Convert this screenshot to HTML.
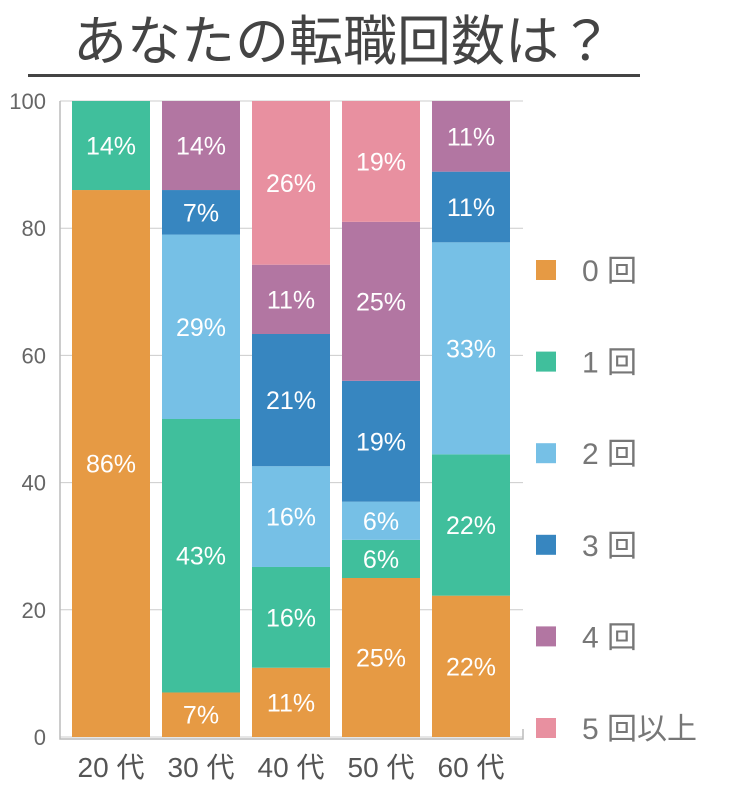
<!DOCTYPE html>
<html><head><meta charset="utf-8"><style>
html,body{margin:0;padding:0;background:#fff;width:733px;height:785px;overflow:hidden}
svg{display:block}
</style></head><body>
<svg id="chart" width="733" height="785" xmlns="http://www.w3.org/2000/svg" font-family="'Liberation Sans','Noto Sans CJK JP',sans-serif">
<text x="343" y="60" text-anchor="middle" font-size="54" fill="#444" font-family="'Noto Sans CJK JP',sans-serif">あなたの転職回数は？</text>
<rect x="28" y="74" width="612" height="3" fill="#444"/>
<g id="grid"></g><g id="bars"></g><g id="legend"></g>
</svg>
<script>
const categories=["20 代","30 代","40 代","50 代","60 代"];
const seriesNames=["0 回","1 回","2 回","3 回","4 回","5 回以上"];
const s0=[86,7,11,25,22];
const s1=[14,43,16,6,22];
const s2=[0,29,16,6,33];
const s3=[0,7,21,19,11];
const s4=[0,14,11,25,11];
const s5=[0,0,26,19,0];
const yTicks=[0,20,40,60,80,100];
const series=[s0,s1,s2,s3,s4,s5];
const colors=["#E69A44","#40BF9C","#76C0E6","#3786C0","#B276A2","#E890A0"];
const NS="http://www.w3.org/2000/svg";
const plotL=60,plotR=523,yTop=101,yBot=737;
const y=v=>yBot-(v/100)*(yBot-yTop);
const step=90,bw=78,x0=72;
const x=i=>x0+i*step;
function mk(t,a,p){const e=document.createElementNS(NS,t);for(const k in a)e.setAttribute(k,a[k]);p.appendChild(e);return e;}
const grid=document.getElementById('grid');
yTicks.forEach(t=>{
 const l=mk('line',{x1:plotL,x2:plotR,y1:y(t),y2:y(t),stroke:'#ccc','stroke-width':1},grid);
 
 
 const tx=mk('text',{x:46,y:y(t)+8,'text-anchor':'end','font-size':22,fill:'#666'},grid);
 tx.textContent=t;
 
 
});
const ax=mk('path',{d:`M${plotL} ${yTop}V${yBot+2}H${plotR}V${yBot-8}`,stroke:'#bbb',fill:'none','stroke-width':1.5},grid);


const bars=document.getElementById('bars');
categories.forEach((c,i)=>{
 let tot=0;series.forEach(s=>tot+=s[i]);
 let cum=0;
 series.forEach((s,k)=>{
  const v=s[i];if(!v)return;
  const a=cum/tot*100,b=(cum+v)/tot*100;cum+=v;
  const r=mk('rect',{x:x(i),y:y(b),width:bw,height:y(a)-y(b),fill:colors[k]},bars);
  
  
  const t=mk('text',{x:x(i)+bw/2,y:(y(a)+y(b))/2+9,'text-anchor':'middle','font-size':25,fill:'#fff'},bars);
  t.textContent=v+'%';
  
  
 });
 const ct=mk('text',{x:x(i)+bw/2,y:777,'text-anchor':'middle','font-size':28,fill:'#555'},bars);
 ct.textContent=c;
 
 
});
const lg=document.getElementById('legend');
seriesNames.forEach((n,k)=>{
 const cy=270+k*91.6;
 const r=mk('rect',{x:536,y:cy-10,width:20,height:20,fill:colors[k]},lg);
 
 
 const t=mk('text',{x:582,y:cy+11,'font-size':30,fill:'#777'},lg);
 t.textContent=n;
 
 
});
</script>
</body></html>
